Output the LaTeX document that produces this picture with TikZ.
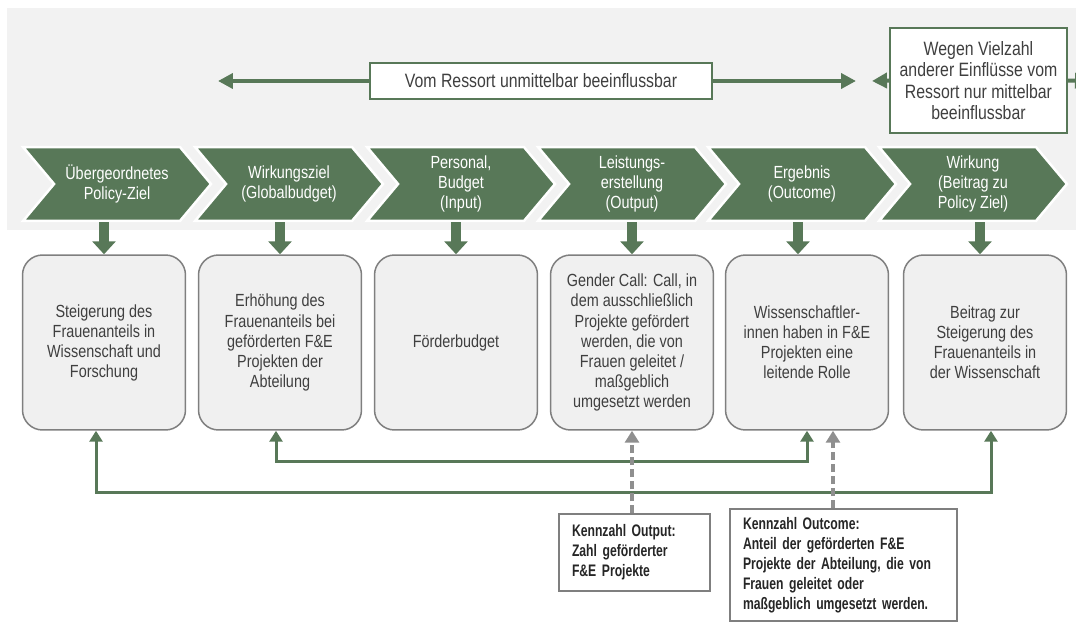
\documentclass[tikz,border=0pt]{standalone}
\usepackage{fontspec}
\setmainfont{Liberation Sans}[FakeStretch=0.82]
\newfontfamily\kzfont{Liberation Sans}[FakeStretch=0.73]
\usetikzlibrary{arrows.meta,shapes.symbols}

\definecolor{chevgreen}{HTML}{587858}
\definecolor{bggray}{HTML}{F2F2F2}
\definecolor{boxgray}{HTML}{F0F0F0}
\definecolor{linegray}{HTML}{7F7F7F}
\definecolor{textgray}{HTML}{3F3F3F}
\definecolor{dashgray}{HTML}{8F8F8F}

\begin{document}
\begin{tikzpicture}[x=0.02cm,y=-0.02cm,
	chev/.style={signal,signal from=west,signal to=east,signal pointer angle=100,fill=chevgreen,draw=white,line width=0.05cm,minimum width=3.76cm,minimum height=1.48cm,inner sep=0pt,text=white,align=center,font=\fontsize{10}{11.4}\selectfont},
	stepbox/.style={draw=linegray,line width=0.03cm,fill=boxgray,rounded corners=0.4cm,minimum width=3.26cm,minimum height=3.5cm,text=textgray,align=center,font=\fontsize{10}{11.4}\selectfont},
	topbox/.style={draw=chevgreen,line width=0.03cm,fill=white,text=textgray,align=center,font=\fontsize{11}{12.2}\selectfont},
	kzbox/.style={draw=linegray,line width=0.04cm,fill=white,text=black!85,align=left,inner xsep=0.26cm,anchor=north west,font=\fontsize{9.5}{11.4}\kzfont\bfseries},
	blockarrow/.style={draw=chevgreen,line width=0.2cm,-{Triangle[width=0.46cm,length=0.26cm]}},
	toparrow/.style={draw=chevgreen,line width=0.08cm,-{Triangle[width=0.3cm,length=0.3cm]}},
	fback/.style={draw=chevgreen,line width=0.06cm,arrows={Triangle[width=0.26cm,length=0.22cm]-Triangle[width=0.26cm,length=0.22cm]}},
	kzarrow/.style={draw=dashgray,line width=0.08cm,dash pattern=on 0.16cm off 0.08cm,-{Triangle[width=0.28cm,length=0.24cm]}}]
	\useasboundingbox (0,0) rectangle (1076,622);
	\clip (0,0) rectangle (1076,622);
	\fill[bggray] (7,8) rectangle (1076,230);
	
	%TOP BOXES
	\node[topbox,minimum width=6.84cm,minimum height=0.72cm] (direct) at (541,81) {Vom Ressort unmittelbar beeinflussbar};
	\node[topbox,minimum width=3.54cm,minimum height=2.1cm] (indirect) at (978.5,80.5) {Wegen Vielzahl\\ anderer Einflüsse vom\\ Ressort nur mittelbar\\ beeinflussbar};
	\coordinate (leftend) at (218,81);
	\coordinate (rightend) at (856,81);
	\coordinate (midend) at (872,81);
	\coordinate (farend) at (1090,81);
	%
	\draw[toparrow] (direct.west)--(leftend);
	\draw[toparrow] (direct.east)--(rightend);
	\draw[toparrow] (indirect.west)--(midend);
	\draw[toparrow] (indirect.east)--(farend);
	
	%CHEVRONS
	\node[chev] (chev1) at (117,184) {Übergeordnetes\\ Policy-Ziel};
	\node[chev] (chev2) at (289,184) {Wirkungsziel\\ (Globalbudget)};
	\node[chev] (chev3) at (461,184) {Personal,\\ Budget\\ (Input)};
	\node[chev] (chev4) at (632,184) {Leistungs-\\ erstellung\\ (Output)};
	\node[chev] (chev5) at (802,184) {Ergebnis\\ (Outcome)};
	\node[chev] (chev6) at (973,184) {Wirkung\\ (Beitrag zu\\ Policy Ziel)};
	
	%BOXES
	\node[stepbox] (box1) at (104,342.5) {Steigerung des\\ Frauenanteils in\\ Wissenschaft und\\ Forschung};
	\node[stepbox] (box2) at (280,342.5) {Erhöhung des\\ Frauenanteils bei\\ geförderten F\&E\\ Projekten der\\ Abteilung};
	\node[stepbox] (box3) at (456,342.5) {Förderbudget};
	\node[stepbox] (box4) at (632,342.5) {Gender Call: Call, in\\ dem ausschließlich\\ Projekte gefördert\\ werden, die von\\ Frauen geleitet /\\ maßgeblich\\ umgesetzt werden};
	\node[stepbox] (box5) at (807,342.5) {Wissenschaftler-\\ innen haben in F\&E\\ Projekten eine\\ leitende Rolle};
	\node[stepbox] (box6) at (985,342.5) {Beitrag zur\\ Steigerung des\\ Frauenanteils in\\ der Wissenschaft};
	
	%DOWN ARROWS
	\draw[blockarrow] (box1.north |- chev1.south)--(box1.north);
	\draw[blockarrow] (box2.north |- chev2.south)--(box2.north);
	\draw[blockarrow] (box3.north |- chev3.south)--(box3.north);
	\draw[blockarrow] (box4.north |- chev4.south)--(box4.north);
	\draw[blockarrow] ([xshift=-0.18cm]box5.north |- chev5.south)--([xshift=-0.18cm]box5.north);
	\draw[blockarrow] ([xshift=-0.1cm]box6.north |- chev6.south)--([xshift=-0.1cm]box6.north);
	
	%FEEDBACK LOOPS
	\draw[fback] ([xshift=-0.16cm]box1.south)--++(0,62) -| ([xshift=0.12cm]box6.south);
	\draw[fback] ([xshift=-0.08cm]box2.south)--++(0,31) -| (box5.south);
	
	%INDICATORS
	\node[kzbox,minimum width=3.02cm,minimum height=1.54cm,text width=2.5cm] (kout) at (558,513) {Kennzahl Output:\\ Zahl geförderter\\ F\&E Projekte};
	\node[kzbox,minimum width=4.54cm,minimum height=2.24cm,text width=4.02cm,inner ysep=0.14cm] (kcome) at (729,508) {Kennzahl Outcome:\\ Anteil der geförderten F\&E\\ Projekte der Abteilung, die von\\ Frauen geleitet oder\\ maßgeblich umgesetzt werden.};
	\coordinate (ocin) at ([xshift=0.52cm]box5.south);
	%
	\draw[kzarrow] (kout.north -| box4.south)--(box4.south);
	\draw[kzarrow] (ocin |- kcome.north)--(ocin);
\end{tikzpicture}
\end{document}
